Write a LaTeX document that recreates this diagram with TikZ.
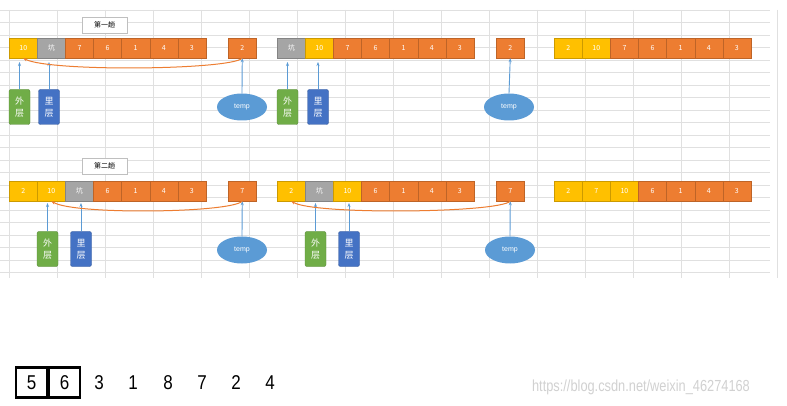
\documentclass[tikz,border=0pt]{standalone}
\usepackage{fontspec}
\setmainfont{Liberation Sans}
\newfontfamily\cjk{Noto Sans CJK SC}
\usetikzlibrary{shapes.geometric,arrows.meta}
\definecolor{cor}{HTML}{ED7D31}
\definecolor{cyl}{HTML}{FFC000}
\definecolor{cgr}{HTML}{A5A5A5}
\definecolor{cgn}{HTML}{70AD47}
\definecolor{cbl}{HTML}{4472C4}
\definecolor{cel}{HTML}{5B9BD5}
\tikzset{
 cell/.style={draw=#1!80!black,line width=0.4pt,fill=#1,minimum width=28.1pt,minimum height=20pt,inner sep=0pt,text=white,font=\cjk\fontsize{7}{8}\selectfont,anchor=west},
 lab/.style={draw=#1!80!black,fill=#1,rounded corners=2pt,minimum width=21pt,minimum height=35pt,align=center,inner sep=0pt,text=white,font=\cjk\fontsize{9}{12}\selectfont},
 tmp/.style={ellipse,fill=cel,minimum width=50pt,minimum height=27pt,inner sep=0pt,text=white,font=\fontsize{7}{8}\selectfont},
 ttl/.style={draw=black!25,fill=white,minimum width=45pt,minimum height=16pt,inner sep=0pt,font=\cjk\fontsize{7}{8}\selectfont},
 up/.style={-{Stealth[length=4pt,width=3pt]},color=cel,line width=0.9pt},
 arc/.style={-{Stealth[length=4pt,width=3pt]},color=cor,line width=1pt},
 num/.style={font=\fontsize{20}{20}\selectfont,inner sep=0pt,xscale=0.85},
 box/.style={draw,line width=2.4pt,minimum width=31pt,minimum height=30pt,font=\fontsize{20}{20}\selectfont,inner sep=0pt}
}
\newcommand{\cellrow}[4]{% prefix, x0, y, list color/text
 \foreach [count=\k] \c/\t in {#4} {\node[cell=\c] (#1\k) at ({#2+(\k-1)*28.1},#3) {\t};}}
\begin{document}
\begin{tikzpicture}[x=1pt,y=-1pt]
\useasboundingbox (0,0) rectangle (787,406);
\fill[white] (0,0) rectangle (787,406);
% grid
\foreach \x in {9,57,...,777} \draw[black!12,line width=0.5pt] (\x,10) -- (\x,278);
\foreach \y in {10,22.5,...,278} \draw[black!12,line width=0.5pt] (0,\y) -- (770,\y);
% round 1
\node[ttl] (t1) at (104.5,25) {第一趟};
\cellrow{a}{9}{48}{cyl/10,cgr/坑,cor/7,cor/6,cor/1,cor/4,cor/3}
\node[cell=cor] (atmp) at (228,48) {2};
\cellrow{b}{277}{48}{cgr/坑,cyl/10,cor/7,cor/6,cor/1,cor/4,cor/3}
\node[cell=cor] (btmp) at (496,48) {2};
\cellrow{c}{554}{48}{cyl/2,cyl/10,cor/7,cor/6,cor/1,cor/4,cor/3}
\node[lab=cgn] (ao) at (19.5,107) {外\\层};
\node[lab=cbl] (ai) at (49,107) {里\\层};
\node[tmp] (ae) at (242,107) {temp};
\node[lab=cgn] (bo) at (287.5,107) {外\\层};
\node[lab=cbl] (bi) at (318,107) {里\\层};
\node[tmp] (be) at (509,107) {temp};
\coordinate (aot) at (19.5,62);
\coordinate (ait) at (49,62);
\coordinate (bot) at (287.5,62);
\coordinate (bit) at (318,62);
\draw[up] (ao.north) -- (aot);
\draw[up] (ai.north) -- (ait);
\draw[up] (ae.north) -- (atmp.south);
\draw[up] (bo.north) -- (bot);
\draw[up] (bi.north) -- (bit);
\draw[up] (be.north) -- (btmp.south);
\draw[arc] (atmp.south) .. controls (230,70) and (50,72) .. (a1.south);
% round 2
\node[ttl] (t2) at (104.5,166) {第二趟};
\cellrow{d}{9}{191}{cyl/2,cyl/10,cgr/坑,cor/6,cor/1,cor/4,cor/3}
\node[cell=cor] (dtmp) at (228,191) {7};
\cellrow{e}{277}{191}{cyl/2,cgr/坑,cyl/10,cor/6,cor/1,cor/4,cor/3}
\node[cell=cor] (etmp) at (496,191) {7};
\cellrow{f}{554}{191}{cyl/2,cyl/7,cyl/10,cor/6,cor/1,cor/4,cor/3}
\node[lab=cgn] (do) at (47.5,249) {外\\层};
\node[lab=cbl] (di) at (81,249) {里\\层};
\node[tmp] (de) at (242,250) {temp};
\node[lab=cgn] (eo) at (315.5,249) {外\\层};
\node[lab=cbl] (ei) at (349,249) {里\\层};
\node[tmp] (ee) at (510,250) {temp};
\coordinate (dot) at (47.5,203);
\coordinate (dit) at (81,203);
\coordinate (eot) at (315.5,203);
\coordinate (eit) at (349,203);
\draw[up] (do.north) -- (dot);
\draw[up] (di.north) -- (dit);
\draw[up] (de.north) -- (dtmp.south);
\draw[up] (eo.north) -- (eot);
\draw[up] (ei.north) -- (eit);
\draw[up] (ee.north) -- (etmp.south);
\draw[arc] (dtmp.south) .. controls (230,213) and (75,215) .. (d2.south);
\draw[arc] (etmp.south) .. controls (498,213) and (315,215) .. (e1.south);
% bottom
\node[box] (n5) at (31.5,382.5) {\scalebox{0.85}[1]{5}};
\node[box] (n6) at (64.5,382.5) {\scalebox{0.85}[1]{6}};
\foreach \v/\x in {3/99,1/133,8/168,7/202,2/236,4/270} \node[num] (m\v) at (\x,383) {\v};
\node[text=black!18,font=\fontsize{16}{16}\selectfont,inner sep=0pt,xscale=0.8] (wm) at (641,387) {https://blog.csdn.net/weixin\_46274168};
\end{tikzpicture}
\end{document}
